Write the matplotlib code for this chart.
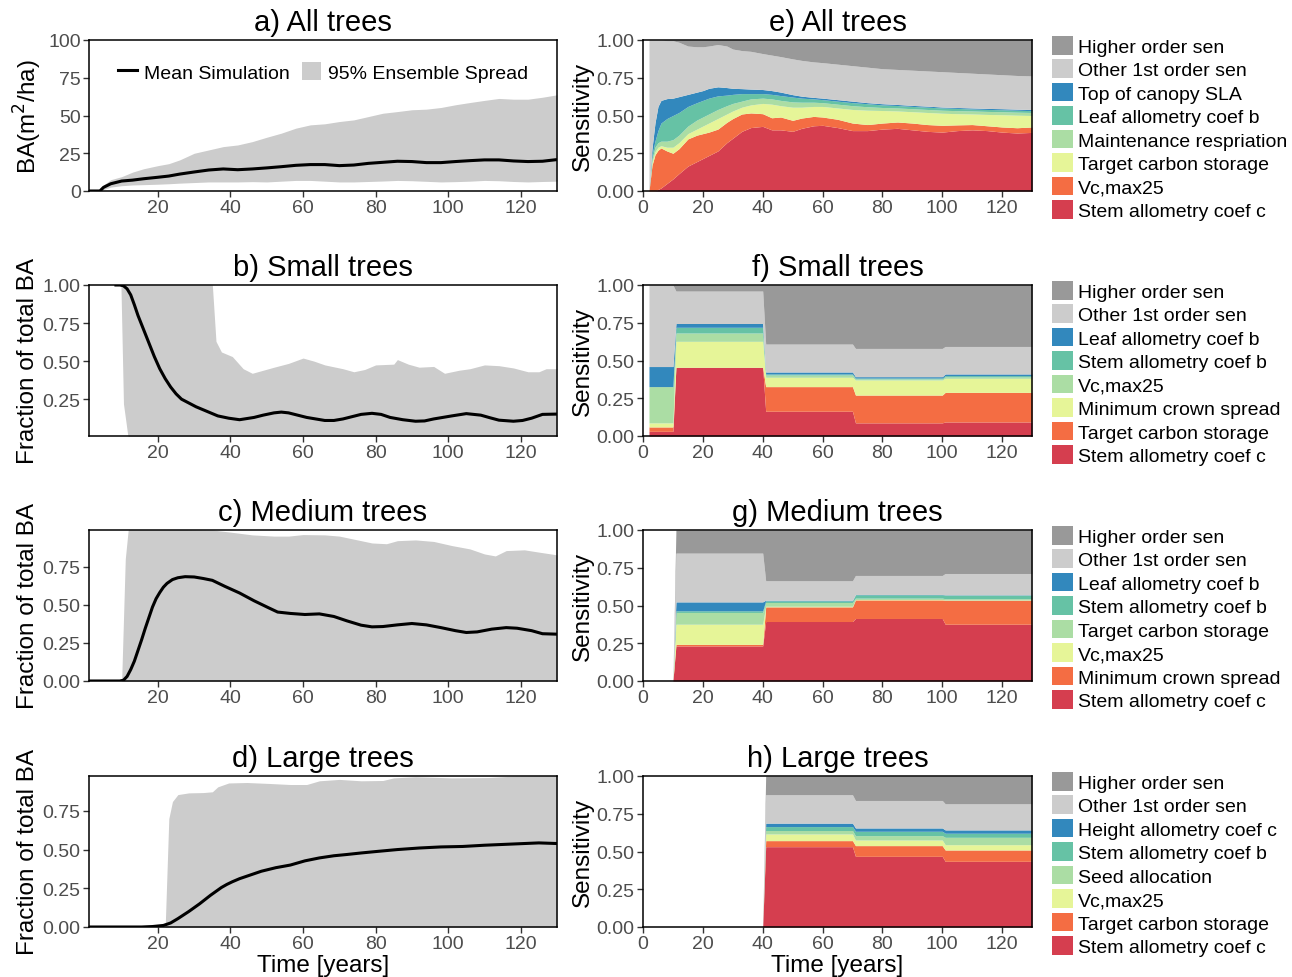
import matplotlib
matplotlib.use('Agg')
import matplotlib.pyplot as plt
from matplotlib.patches import Patch
from matplotlib.lines import Line2D
from matplotlib.ticker import FormatStrFormatter

plt.rcParams['font.family'] = ['Liberation Sans', 'DejaVu Sans']

# ---------------- left column: basal area and size-class fractions ----------------
a_t = [1, 4, 5, 7, 10, 13, 16, 20, 23, 26, 30, 34, 38, 42, 46, 50, 54, 58, 62, 66,
       70, 74, 78, 82, 86, 90, 94, 98, 102, 106, 110, 114, 118, 122, 126, 130]
a_mean = [0, 0, 2.4, 4.8, 6.6, 7.2, 8.1, 9.1, 9.9, 11.2, 12.6, 13.9, 14.6, 14.1, 14.6,
          15.3, 16.1, 17.0, 17.5, 17.5, 16.8, 17.2, 18.3, 19.0, 19.7, 19.5, 18.8, 18.8,
          19.5, 20.1, 20.6, 20.6, 19.9, 19.5, 19.7, 20.8]
a_upper = [0, 0.5, 4, 7.5, 9.5, 12.5, 14.7, 16.8, 18.1, 20.6, 25, 27.2, 29.4, 30.5, 32.7,
           35.6, 38.3, 41.6, 43.8, 44.5, 46, 47.1, 49.3, 51.5, 52.6, 53.8, 54.2, 55.3,
           57.1, 58.6, 60, 61.3, 60.8, 60.8, 62.1, 63.7]
a_lower = [0, 0, 1, 2.6, 3.5, 4, 4.2, 4.5, 4.8, 5.2, 5.6, 6, 6, 6, 6.2, 6, 6.5, 7, 7, 6.5,
           6, 6, 6.3, 6.6, 7, 6.8, 6.4, 6, 6.2, 6.5, 7, 6.8, 6.3, 6, 6.3, 6.5]

b_t = [8, 9.5, 10.5, 11.5, 12.5, 13.5, 14.5, 16, 17.5, 19, 20.5, 22, 23.5, 25, 26.5,
       28.5, 30.5, 33.5, 36.5, 39.5, 42.5, 46.5, 49, 52, 54, 56, 58.5, 61, 63.5, 66,
       68.5, 71, 73.5, 76, 79, 81.5, 84, 87.5, 91, 93.5, 96, 98.5, 101, 105, 109, 111.5,
       114, 118, 120.5, 123, 126, 130]
b_mean = [1.0, 1.0, 0.995, 0.975, 0.935, 0.87, 0.8, 0.71, 0.62, 0.53, 0.45, 0.385, 0.33,
          0.285, 0.25, 0.225, 0.2, 0.17, 0.14, 0.125, 0.115, 0.13, 0.145, 0.16, 0.165,
          0.16, 0.145, 0.13, 0.12, 0.11, 0.11, 0.12, 0.135, 0.15, 0.157, 0.15, 0.13,
          0.115, 0.105, 0.107, 0.12, 0.13, 0.14, 0.155, 0.145, 0.128, 0.112, 0.105, 0.11,
          0.125, 0.15, 0.152]
b_band_t = [9.8, 10.5, 11.7, 12, 20, 35, 36, 37.5, 40.5, 43.5, 46, 49, 52, 56, 60, 63,
            66, 71, 74, 77, 80, 85, 86, 89, 92, 96, 99, 103, 106, 110, 114, 118, 122,
            125, 127, 130]
b_upper = [1.0, 1.0, 1.0, 1.0, 1.0, 1.0, 0.63, 0.56, 0.53, 0.45, 0.42, 0.44, 0.46, 0.485,
           0.52, 0.5, 0.475, 0.45, 0.43, 0.445, 0.475, 0.48, 0.51, 0.48, 0.46, 0.465,
           0.42, 0.44, 0.45, 0.475, 0.47, 0.455, 0.43, 0.43, 0.45, 0.45]
b_lower = [1.0, 0.22, 0.01, 0, 0, 0, 0, 0, 0, 0, 0, 0, 0, 0, 0, 0, 0, 0, 0, 0, 0, 0, 0,
           0, 0, 0, 0, 0, 0, 0, 0, 0, 0, 0, 0, 0]

c_t = [1, 9.5, 10.5, 11.5, 12.5, 13.5, 14.5, 15.5, 16.5, 17.5, 18.5, 19.5, 20.5, 21.5,
       22.5, 24, 25.5, 27.5, 30, 32.5, 35, 38.5, 42.5, 46.5, 50.5, 53, 56.5, 60.5, 64.5,
       68.5, 72, 76, 79, 82, 86, 90, 94, 98, 102, 105, 108, 112, 116, 119, 123, 126, 130]
c_mean = [0, 0, 0.005, 0.03, 0.075, 0.13, 0.2, 0.27, 0.345, 0.415, 0.485, 0.54, 0.58,
          0.615, 0.64, 0.665, 0.677, 0.684, 0.682, 0.672, 0.66, 0.62, 0.577, 0.526, 0.48,
          0.452, 0.443, 0.436, 0.44, 0.423, 0.395, 0.366, 0.355, 0.357, 0.368, 0.377,
          0.368, 0.35, 0.33, 0.318, 0.322, 0.34, 0.35, 0.346, 0.33, 0.31, 0.307]
c_band_t = [10, 11, 11.8, 12, 35, 40, 46, 52, 56, 60, 66, 70, 74, 79, 83, 86, 91, 96,
            101, 106, 110, 113, 116, 121, 125, 130]
c_upper = [0, 0.8, 0.99, 1.0, 0.99, 0.976, 0.958, 0.95, 0.95, 0.96, 0.958, 0.95, 0.93,
           0.905, 0.9, 0.92, 0.925, 0.915, 0.888, 0.866, 0.833, 0.82, 0.855, 0.86, 0.845,
           0.827]

d_t = [1, 15.5, 18.5, 21.5, 23.5, 25.5, 28.5, 31.5, 34.5, 37.5, 39, 40.5, 42.5, 44.5,
       48.5, 52.5, 56.5, 60.5, 64.5, 68.5, 72, 76, 80, 86, 92, 98, 104, 110, 116, 121,
       125, 130]
d_mean = [0, 0, 0.003, 0.01, 0.026, 0.054, 0.1, 0.15, 0.205, 0.255, 0.275, 0.292, 0.312,
          0.328, 0.36, 0.383, 0.4, 0.427, 0.446, 0.46, 0.468, 0.478, 0.487, 0.5, 0.51,
          0.517, 0.52, 0.528, 0.534, 0.539, 0.543, 0.539]
d_band_t = [22, 23, 24, 25.5, 28.5, 32.5, 35, 36.5, 39.5, 44.5, 50.5, 56.5, 61, 64.5, 70,
            76, 82, 85, 91, 101, 111, 118, 130]
d_upper = [0, 0.7, 0.81, 0.855, 0.866, 0.868, 0.873, 0.905, 0.93, 0.933, 0.927, 0.92,
           0.92, 0.944, 0.953, 0.944, 0.946, 0.963, 0.97, 0.963, 0.965, 0.974, 0.978]

# ---------------- right column: sensitivity, cumulative upper edge of each band ----------------
# band order bottom -> top: 6 named parameters, then "Other 1st order", then "Higher order"
e_t = [2, 3, 4, 5, 6, 8, 10, 12, 15, 18, 20, 22, 25, 28, 30, 33, 36, 40, 43, 46, 50, 53,
       57, 60, 65, 70, 75, 80, 85, 90, 95, 100, 105, 110, 115, 120, 125, 130]
e_p1 = [0, 0, 0, 0.01, 0.02, 0.05, 0.08, 0.115, 0.165, 0.195, 0.215, 0.235, 0.265, 0.32,
        0.35, 0.395, 0.42, 0.428, 0.405, 0.405, 0.395, 0.415, 0.432, 0.435, 0.42, 0.40,
        0.40, 0.41, 0.415, 0.405, 0.395, 0.39, 0.40, 0.405, 0.40, 0.39, 0.384, 0.388]
e_p2 = [0, 0.17, 0.24, 0.27, 0.285, 0.265, 0.25, 0.28, 0.345, 0.37, 0.38, 0.39, 0.41,
        0.455, 0.48, 0.51, 0.517, 0.512, 0.485, 0.49, 0.468, 0.483, 0.494, 0.49, 0.475,
        0.45, 0.44, 0.45, 0.457, 0.45, 0.44, 0.435, 0.438, 0.44, 0.432, 0.424, 0.419, 0.424]
e_p3 = [0, 0.19, 0.26, 0.29, 0.30, 0.29, 0.29, 0.32, 0.38, 0.41, 0.43, 0.45, 0.48, 0.51,
        0.53, 0.555, 0.57, 0.58, 0.575, 0.565, 0.555, 0.555, 0.56, 0.56, 0.55, 0.54,
        0.535, 0.533, 0.53, 0.525, 0.52, 0.515, 0.512, 0.51, 0.507, 0.505, 0.502, 0.50]
e_p4 = [0, 0.21, 0.29, 0.32, 0.33, 0.33, 0.34, 0.37, 0.43, 0.47, 0.49, 0.51, 0.54, 0.565,
        0.58, 0.595, 0.61, 0.615, 0.61, 0.60, 0.59, 0.588, 0.588, 0.585, 0.575, 0.565,
        0.558, 0.553, 0.55, 0.545, 0.54, 0.535, 0.532, 0.53, 0.527, 0.525, 0.522, 0.52]
e_p5 = [0, 0.24, 0.33, 0.40, 0.45, 0.48, 0.50, 0.52, 0.56, 0.585, 0.60, 0.615, 0.63,
        0.635, 0.64, 0.645, 0.645, 0.645, 0.64, 0.632, 0.622, 0.615, 0.61, 0.605, 0.595,
        0.585, 0.578, 0.57, 0.566, 0.56, 0.555, 0.55, 0.547, 0.543, 0.54, 0.538, 0.535,
        0.532]
e_p6 = [0, 0.28, 0.45, 0.56, 0.60, 0.612, 0.615, 0.625, 0.64, 0.655, 0.665, 0.68, 0.69,
        0.685, 0.68, 0.678, 0.675, 0.672, 0.665, 0.655, 0.638, 0.628, 0.62, 0.615, 0.605,
        0.595, 0.585, 0.578, 0.573, 0.567, 0.562, 0.556, 0.553, 0.55, 0.547, 0.545,
        0.542, 0.54]
e_other = [1.0, 1.0, 1.0, 1.0, 1.0, 0.995, 0.995, 0.985, 0.96, 0.955, 0.955, 0.96, 0.97,
           0.96, 0.94, 0.93, 0.925, 0.91, 0.90, 0.89, 0.875, 0.865, 0.855, 0.85, 0.84,
           0.83, 0.82, 0.81, 0.805, 0.80, 0.795, 0.79, 0.785, 0.78, 0.775, 0.77, 0.765,
           0.762]
e_labels = ['Higher order sen', 'Other 1st order sen', 'Top of canopy SLA',
            'Leaf allometry coef b', 'Maintenance respriation', 'Target carbon storage',
            'Vc,max25', 'Stem allometry coef c']

f_t = [2, 10, 11, 40, 41, 70, 71, 100, 101, 130]
f_p1 = [0.031, 0.031, 0.455, 0.455, 0.164, 0.164, 0.087, 0.087, 0.093, 0.093]
f_p2 = [0.06, 0.06, 0.455, 0.455, 0.327, 0.327, 0.271, 0.271, 0.289, 0.289]
f_p3 = [0.087, 0.087, 0.627, 0.627, 0.389, 0.389, 0.371, 0.371, 0.382, 0.382]
f_p4 = [0.327, 0.327, 0.682, 0.682, 0.404, 0.404, 0.378, 0.378, 0.392, 0.392]
f_p5 = [0.327, 0.327, 0.72, 0.72, 0.411, 0.411, 0.384, 0.384, 0.40, 0.40]
f_p6 = [0.46, 0.46, 0.745, 0.745, 0.424, 0.424, 0.393, 0.393, 0.411, 0.411]
f_other = [1.0, 1.0, 0.96, 0.96, 0.609, 0.609, 0.58, 0.58, 0.593, 0.593]
f_labels = ['Higher order sen', 'Other 1st order sen', 'Leaf allometry coef b',
            'Stem allometry coef b', 'Vc,max25', 'Minimum crown spread',
            'Target carbon storage', 'Stem allometry coef c']

g_t = [10, 11, 40, 41, 70, 71, 100, 101, 130]
g_p1 = [0, 0.232, 0.232, 0.394, 0.394, 0.414, 0.414, 0.376, 0.376]
g_p2 = [0, 0.243, 0.243, 0.491, 0.491, 0.537, 0.537, 0.535, 0.535]
g_p3 = [0, 0.376, 0.376, 0.495, 0.495, 0.54, 0.54, 0.537, 0.537]
g_p4 = [0, 0.454, 0.454, 0.52, 0.52, 0.549, 0.549, 0.545, 0.545]
g_p5 = [0, 0.465, 0.465, 0.531, 0.531, 0.571, 0.571, 0.569, 0.569]
g_p6 = [0, 0.524, 0.524, 0.535, 0.535, 0.573, 0.573, 0.571, 0.571]
g_other = [0, 0.847, 0.847, 0.664, 0.664, 0.699, 0.699, 0.712, 0.712]
g_top = [0, 1, 1, 1, 1, 1, 1, 1, 1]
g_labels = ['Higher order sen', 'Other 1st order sen', 'Leaf allometry coef b',
            'Stem allometry coef b', 'Target carbon storage', 'Vc,max25',
            'Minimum crown spread', 'Stem allometry coef c']

h_t = [40, 41, 70, 71, 100, 101, 130]
h_p1 = [0, 0.532, 0.532, 0.468, 0.468, 0.435, 0.435]
h_p2 = [0, 0.572, 0.572, 0.539, 0.539, 0.51, 0.51]
h_p3 = [0, 0.616, 0.616, 0.576, 0.576, 0.545, 0.545]
h_p4 = [0, 0.639, 0.639, 0.605, 0.605, 0.594, 0.594]
h_p5 = [0, 0.665, 0.665, 0.634, 0.634, 0.621, 0.621]
h_p6 = [0, 0.688, 0.688, 0.656, 0.656, 0.643, 0.643]
h_other = [0, 0.876, 0.876, 0.838, 0.838, 0.816, 0.816]
h_top = [0, 1, 1, 1, 1, 1, 1]
h_labels = ['Higher order sen', 'Other 1st order sen', 'Height allometry coef c',
            'Stem allometry coef b', 'Seed allocation', 'Vc,max25',
            'Target carbon storage', 'Stem allometry coef c']

# bottom -> top
COLORS = ['#D53E4F', '#F46D43', '#E6F598', '#ABDDA4', '#66C2A5', '#3288BD',
          '#CCCCCC', '#999999']
BAND = '#CCCCCC'

W, H = 1292, 978
fig = plt.figure(figsize=(W / 100, H / 100), dpi=100)

TOPS = [41, 286, 531, 777]
AX_H = 151


def make_ax(x0, width, top):
    return fig.add_axes([x0 / W, 1 - (top + AX_H) / H, width / W, AX_H / H])


def style(ax, title):
    ax.set_title(title, fontsize=21, pad=7)
    for s in ax.spines.values():
        s.set_linewidth(1.1)
        s.set_color('black')
    ax.tick_params(direction='out', length=4, width=1, color='#333333',
                   labelcolor='#4D4D4D', labelsize=14, pad=2)


def band_panel(ax, title, band_t, lower, upper, line_t, mean, ylim, yticks, ylabel, fmt):
    ax.fill_between(band_t, lower, upper, color=BAND, lw=0)
    ax.plot(line_t, mean, color='black', lw=2.2, solid_capstyle='butt')
    ax.set_xlim(1, 130)
    ax.set_ylim(*ylim)
    ax.set_xticks([20, 40, 60, 80, 100, 120])
    ax.set_yticks(yticks)
    if fmt:
        ax.yaxis.set_major_formatter(FormatStrFormatter(fmt))
    ax.set_ylabel(ylabel, fontsize=17.5, labelpad=3)
    style(ax, title)


def stack_panel(ax, title, t, edges, top, labels):
    lows = [0] + edges
    highs = edges + [top]
    for lo, hi, c in zip(lows, highs, COLORS):
        ax.fill_between(t, lo, hi, color=c, lw=0)
    ax.set_xlim(0, 130)
    ax.set_ylim(0, 1)
    ax.set_xticks([0, 20, 40, 60, 80, 100, 120])
    ax.set_yticks([0, 0.25, 0.5, 0.75, 1.0])
    ax.yaxis.set_major_formatter(FormatStrFormatter('%.2f'))
    ax.set_ylabel('Sensitivity', fontsize=17.5, labelpad=2)
    style(ax, title)
    handles = [Patch(facecolor=c, edgecolor='none') for c in COLORS[::-1]]
    ax.legend(handles, labels, loc='upper left', bbox_to_anchor=(1.051, 1.027),
              frameon=False, borderpad=0, borderaxespad=0, fontsize=14,
              handlelength=1.1, handleheight=1.1, handletextpad=0.25,
              labelspacing=0.18)


axa = make_ax(89, 468, TOPS[0])
band_panel(axa, 'a) All trees', a_t, a_lower, a_upper, a_t, a_mean, (0, 100),
           [0, 25, 50, 75, 100], r'BA(m$^2$/ha)', None)
leg_h = [Line2D([], [], color='black', lw=2.2), Patch(facecolor=BAND, edgecolor='none')]
axa.legend(leg_h, ['Mean Simulation', '95% Ensemble Spread'], loc='center',
           bbox_to_anchor=(0.5, 0.79), ncol=2, frameon=False, fontsize=14,
           handlelength=1.0, handleheight=1.1, handletextpad=0.35, columnspacing=0.6)

axb = make_ax(89, 468, TOPS[1])
band_panel(axb, 'b) Small trees', b_band_t, b_lower, b_upper, b_t, b_mean, (0.008, 1.0),
           [0.25, 0.5, 0.75, 1.0], 'Fraction of total BA', '%.2f')

axc = make_ax(89, 468, TOPS[2])
band_panel(axc, 'c) Medium trees', c_band_t, 0, c_upper, c_t, c_mean, (0, 0.99),
           [0, 0.25, 0.5, 0.75], 'Fraction of total BA', '%.2f')

axd = make_ax(89, 468, TOPS[3])
band_panel(axd, 'd) Large trees', d_band_t, 0, d_upper, d_t, d_mean, (0, 0.975),
           [0, 0.25, 0.5, 0.75], 'Fraction of total BA', '%.2f')
axd.set_xlabel('Time [years]', fontsize=17.5, labelpad=1)

axe = make_ax(643, 389, TOPS[0])
stack_panel(axe, 'e) All trees', e_t,
            [e_p1, e_p2, e_p3, e_p4, e_p5, e_p6, e_other], 1.0, e_labels)

axf = make_ax(643, 389, TOPS[1])
stack_panel(axf, 'f) Small trees', f_t,
            [f_p1, f_p2, f_p3, f_p4, f_p5, f_p6, f_other], 1.0, f_labels)

axg = make_ax(643, 389, TOPS[2])
stack_panel(axg, 'g) Medium trees', g_t,
            [g_p1, g_p2, g_p3, g_p4, g_p5, g_p6, g_other], g_top, g_labels)

axh = make_ax(643, 389, TOPS[3])
stack_panel(axh, 'h) Large trees', h_t,
            [h_p1, h_p2, h_p3, h_p4, h_p5, h_p6, h_other], h_top, h_labels)
axh.set_xlabel('Time [years]', fontsize=17.5, labelpad=1)

fig.savefig('out.png', dpi=100, facecolor='white')
